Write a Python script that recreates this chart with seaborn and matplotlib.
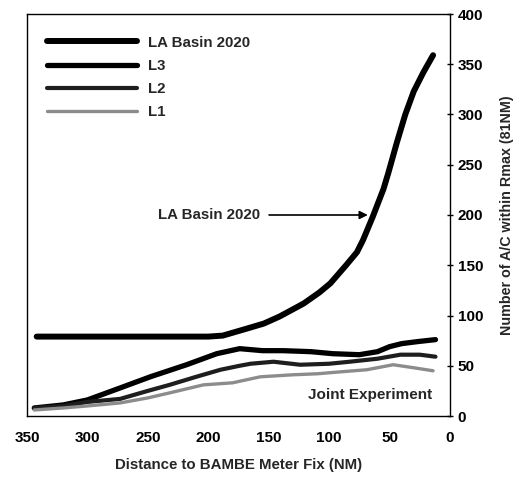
import matplotlib
matplotlib.use("Agg")
import matplotlib.pyplot as plt
import seaborn as sns
import pandas as pd

# ---- data ----
la_nm = [342, 320, 300, 250, 200, 188, 168, 154, 141, 121, 108, 99, 86, 77, 72, 64, 55, 51, 44, 37, 30, 22, 14]
la_val = [79, 79, 79, 79, 79, 80, 87, 92, 99, 112, 123, 132, 150, 163, 175, 198, 226, 242, 272, 300, 323, 342, 359]

l3_nm = [344, 320, 300, 275, 248, 218, 193, 174, 155, 138, 115, 97, 75, 60, 50, 40, 27, 12]
l3_val = [8, 11, 16, 27, 39, 51, 62, 67, 65, 65, 64, 62, 61, 64, 69, 72, 74, 76]

l2_nm = [344, 320, 300, 273, 250, 232, 210, 190, 174, 165, 146, 124, 100, 83, 60, 41, 25, 12]
l2_val = [8, 10, 14, 17, 25, 31, 39, 46, 50, 52, 54, 51, 52, 54, 57, 61, 61, 59]

l1_nm = [344, 320, 300, 273, 250, 232, 204, 180, 157, 130, 110, 90, 69, 47, 30, 14]
l1_val = [6, 8, 10, 13, 18, 23, 31, 33, 39, 41, 42, 44, 46, 51, 48, 45]

series_names = ["LA Basin 2020", "L3", "L2", "L1"]
x_ticks = [350, 300, 250, 200, 150, 100, 50, 0]
y_ticks = [0, 50, 100, 150, 200, 250, 300, 350, 400]

frames = []
for name, xs, ys in zip(series_names, [la_nm, l3_nm, l2_nm, l1_nm], [la_val, l3_val, l2_val, l1_val]):
    frames.append(pd.DataFrame({"nm": xs, "val": ys, "series": name}))
df = pd.concat(frames, ignore_index=True)

sns.set_style("white")
plt.rcParams["font.family"] = ["Liberation Sans", "DejaVu Sans"]
plt.rcParams["font.weight"] = "bold"

fig = plt.figure(figsize=(5.23, 4.79), dpi=100)
ax = fig.add_axes([27 / 523, 1 - 416 / 479, (450 - 27) / 523, (416 - 14) / 479])

palette = {"LA Basin 2020": "#000000", "L3": "#000000", "L2": "#1e1e1e", "L1": "#8c8c8c"}
sizes = {"LA Basin 2020": 4.3, "L3": 3.8, "L2": 3.0, "L1": 2.4}
sns.lineplot(data=df, x="nm", y="val", hue="series", size="series",
             palette=palette, sizes=sizes, hue_order=series_names,
             size_order=series_names, ax=ax, legend=True)
for ln in ax.get_lines():
    ln.set_solid_joinstyle("round")
    ln.set_solid_capstyle("round")

ax.set_xlim(350, 0)
ax.set_ylim(0, 400)
ax.set_xticks(x_ticks)
ax.set_yticks(y_ticks)
ax.yaxis.tick_right()
ax.yaxis.set_label_position("right")
ax.tick_params(axis="both", labelsize=11, direction="inout", length=5, width=1,
               colors="black", pad=3)
for lab in ax.get_xticklabels() + ax.get_yticklabels():
    lab.set_fontweight("bold")
ax.tick_params(axis="x", pad=8)

for s in ax.spines.values():
    s.set_color("black")
    s.set_linewidth(1.0)
    s.set_visible(True)

ax.set_xlabel("Distance to BAMBE Meter Fix (NM)", fontsize=10.8, fontweight="bold", labelpad=10)
ax.set_ylabel("Number of A/C within Rmax (81NM)", fontsize=10.3, fontweight="bold", labelpad=12)

leg = ax.legend(loc="upper left", bbox_to_anchor=(0.015, 0.98), frameon=False,
                handlelength=6.0, fontsize=10.8, labelspacing=0.62, handletextpad=0.75)
for t in leg.get_texts():
    t.set_fontweight("bold")

ax.annotate("LA Basin 2020", xy=(68, 200), xytext=(157, 200),
            ha="right", va="center", fontsize=10.8, fontweight="bold",
            arrowprops=dict(arrowstyle="-|>", color="black", lw=1.2, mutation_scale=12,
                            shrinkA=4, shrinkB=0))
ax.text(15, 21, "Joint Experiment", ha="right", va="center", fontsize=11, fontweight="bold")

fig.savefig("out.png", dpi=100)
